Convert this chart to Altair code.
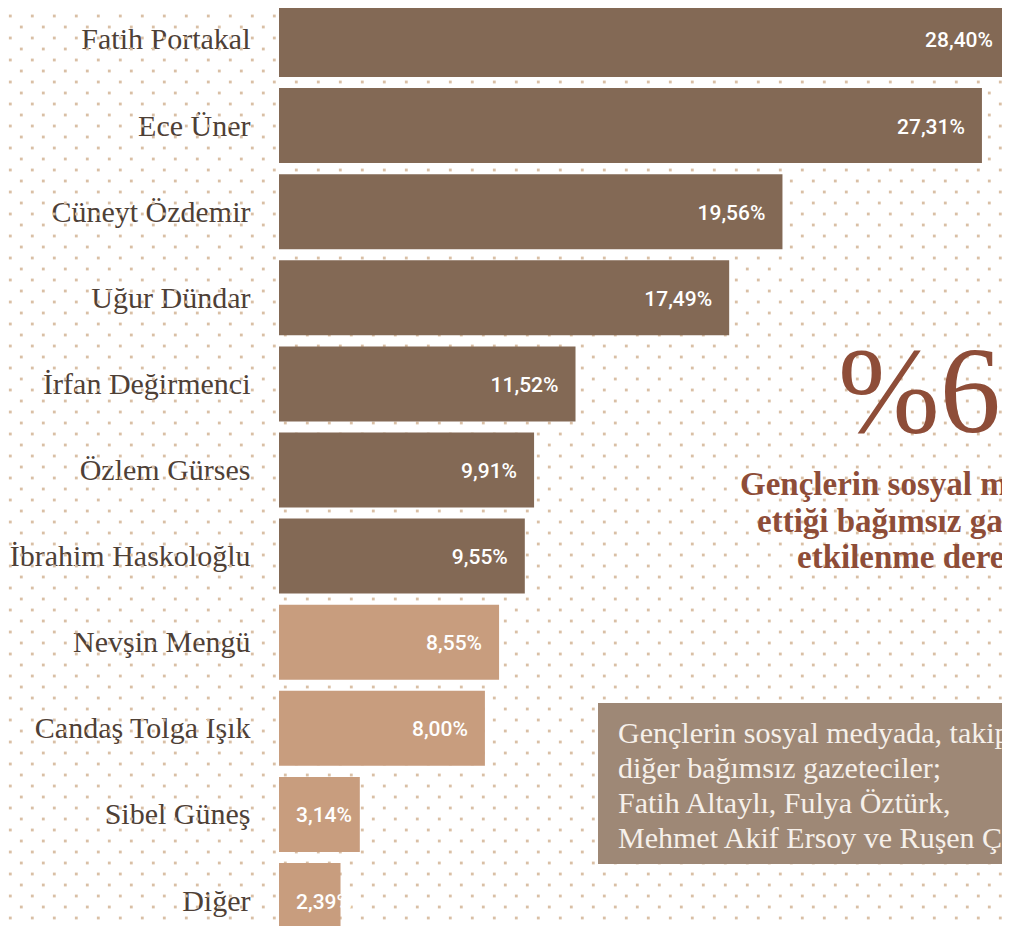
import altair as alt
import numpy as np
import pandas as pd

# ---- data ----
names = ["Fatih Portakal", "Ece Üner", "Cüneyt Özdemir", "Uğur Dündar",
         "İrfan Değirmenci", "Özlem Gürses", "İbrahim Haskoloğlu",
         "Nevşin Mengü", "Candaş Tolga Işık", "Sibel Güneş", "Diğer"]
values = [28.40, 27.31, 19.56, 17.49, 11.52, 9.91, 9.55, 8.55, 8.00, 3.14, 2.39]
groups = ["a"] * 7 + ["b"] * 4

big_text = "%6"
subtitle_lines = ["Gençlerin sosyal medyada takip",
                  "ettiği bağımsız gazetecilerden",
                  "etkilenme derecesi"]
box_lines = ["Gençlerin sosyal medyada, takip ettiği",
             "diğer bağımsız gazeteciler;",
             "Fatih Altaylı, Fulya Öztürk,",
             "Mehmet Akif Ersoy ve Ruşen Çakır"]

df = pd.DataFrame({
    "name": names,
    "value": values,
    "group": groups,
    "label": [f"{v:.2f}".replace(".", ",") + "%" for v in values],
})

# ---- layout (plot-pixel units; page origin is offset by 8px) ----
LEFT = 271
VIEW_W, VIEW_H = 994 - LEFT, 918
SCALE_W = 731

# decorative dotted background pattern
rows = []
for j in range(0, 86):
    y_img = 5 + 11 * j
    x0 = 21.3 if j % 2 == 0 else 10.3
    for x_img in np.arange(x0, 1004, 22.0):
        rows.append({"px": float(x_img - 279), "py": float(y_img - 8)})
dots_df = pd.DataFrame(rows)

SERIF = "Liberation Serif, DejaVu Serif, serif"
NUMFONT = "Roboto, Liberation Sans, sans-serif"
DARK = "#836955"
LIGHT = "#c89d7e"
TEXT = "#4e4036"
RED = "#8e4d38"

dots = alt.Chart(dots_df).mark_square(size=8, color="#d9bfa5", opacity=1).encode(
    x=alt.X("px:Q", axis=None, scale=alt.Scale(domain=[0, VIEW_W], range=[0, VIEW_W])),
    y=alt.Y("py:Q", axis=None, scale=alt.Scale(domain=[0, VIEW_H], range=[0, VIEW_H])),
)

yenc = alt.Y("name:N", sort=names, title=None,
             scale=alt.Scale(domain=names, range=[-6, 930], paddingInner=0.129, paddingOuter=0),
             axis=alt.Axis(domain=False, ticks=False, labelPadding=29, labelLimit=0,
                           labelFont=SERIF, labelFontSize=30, labelColor=TEXT,
                           labelOffset=1))
xenc = alt.X("value:Q", axis=None,
             scale=alt.Scale(domain=[0, 28.4], range=[0, SCALE_W], nice=False))

bars = alt.Chart(df).mark_bar().encode(
    x=xenc, y=yenc,
    color=alt.Color("group:N", legend=None,
                    scale=alt.Scale(domain=["a", "b"], range=[DARK, LIGHT])),
)

labels_big = alt.Chart(df).transform_filter("datum.value >= 5").mark_text(
    align="right", baseline="middle", dx=-17, dy=2, font=NUMFONT, fontSize=21,
    fontWeight=500, color="#ffffff"
).encode(x=xenc, y=yenc, text="label:N")

labels_small = alt.Chart(df).transform_filter("datum.value < 5").mark_text(
    align="left", baseline="middle", dx=17, dy=2, font=NUMFONT, fontSize=21,
    fontWeight=500, color="#ffffff"
).encode(x=alt.value(0), y=yenc, text="label:N")

main = alt.layer(bars, labels_big, labels_small)

pct = alt.Chart().mark_text(
    text=big_text, align="left", baseline="alphabetic", font=SERIF, fontSize=122, color=RED
).encode(x=alt.value(838 - 279), y=alt.value(432 - 8))

sub_x = [740, 757, 797]
sub_y = [495, 531.5, 568]
subs = [
    alt.Chart().mark_text(
        text=t, align="left", baseline="alphabetic", font=SERIF, fontSize=33,
        fontWeight="bold", color=RED
    ).encode(x=alt.value(sx - 279), y=alt.value(sy - 8))
    for t, sx, sy in zip(subtitle_lines, sub_x, sub_y)
]

box = alt.Chart().mark_rect(color="#9e8876").encode(
    x=alt.value(598 - 279), x2=alt.value(VIEW_W + 20),
    y=alt.value(703 - 8), y2=alt.value(864 - 8),
)

box_text = alt.Chart().mark_text(
    text=box_lines, align="left", baseline="alphabetic", font=SERIF, fontSize=30,
    color="#f6f0ea", lineHeight=35
).encode(x=alt.value(618 - 279), y=alt.value(743 - 8))

chart = alt.layer(dots, main, pct, *subs, box, box_text).resolve_scale(
    x="independent", y="independent"
).properties(
    width=VIEW_W, height=VIEW_H,
    autosize=alt.AutoSizeParams(type="none"),
    padding={"left": LEFT, "top": 0, "right": 0, "bottom": 0},
    background="#ffffff",
).configure_view(stroke=None)

chart.save("out.html", embed_options={"renderer": "svg", "actions": False})
